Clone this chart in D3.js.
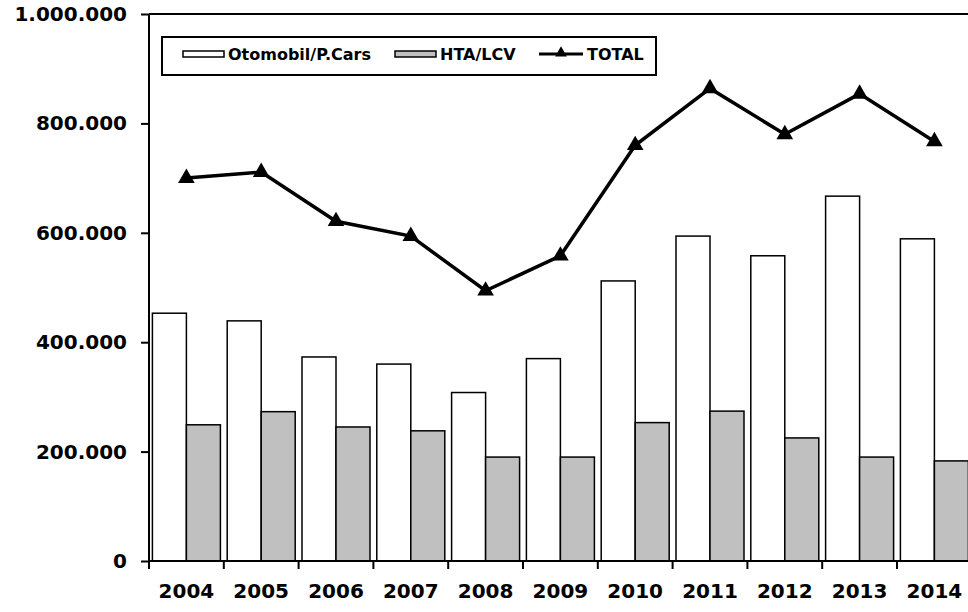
<!DOCTYPE html>
<html>
<head>
<meta charset="utf-8">
<script src="https://cdn.jsdelivr.net/npm/d3@7"></script>
<style>
  body { margin: 0; background: #fff; }
  svg text { font-family: "DejaVu Sans", Verdana, sans-serif; font-weight: bold; }
</style>
</head>
<body>
<div id="chart"></div>
<script>
// data
var years = ["2004", "2005", "2006", "2007", "2008", "2009", "2010", "2011", "2012", "2013", "2014"];
var cars = [453000, 439000, 373000, 360000, 308000, 370000, 512000, 594000, 558000, 667000, 589000];
var lcv = [249000, 273000, 245000, 238000, 190000, 190000, 253000, 274000, 225000, 190000, 183000];
var total = [700000, 711000, 621000, 594000, 494000, 558000, 760000, 864000, 780000, 854000, 767000];
var yTicks = [0, 200000, 400000, 600000, 800000, 1000000];
var seriesNames = ["Otomobil/P.Cars", "HTA/LCV", "TOTAL"];

var chartW = 968, chartH = 612;
var plotLeft = 149, plotTop = 14, plotBottom = 561, bandW = 74.8;

var svg = d3.select("#chart").append("svg")
    .attr("width", chartW)
    .attr("height", chartH);

var x = d3.scaleBand()
    .domain(years)
    .range([plotLeft, plotLeft + years.length * bandW]);

var xSub = d3.scaleBand()
    .domain(["cars", "lcv"])
    .range([0, x.bandwidth()])
    .paddingOuter(0.1);

var y = d3.scaleLinear()
    .domain([0, 1000000])
    .range([plotBottom, plotTop]);

// plot area border (top / right)
svg.append("line")
    .attr("x1", plotLeft).attr("x2", x.range()[1])
    .attr("y1", plotTop).attr("y2", plotTop)
    .attr("stroke", "#000").attr("stroke-width", 2);
svg.append("line")
    .attr("x1", x.range()[1]).attr("x2", x.range()[1])
    .attr("y1", plotTop).attr("y2", plotBottom)
    .attr("stroke", "#000").attr("stroke-width", 2);

// bars
var groups = svg.selectAll("g.year")
    .data(years)
    .enter().append("g")
    .attr("class", "year")
    .attr("transform", d => "translate(" + x(d) + ",0)");

groups.append("rect")
    .attr("x", xSub("cars"))
    .attr("width", xSub.bandwidth())
    .attr("y", (d, i) => y(cars[i]))
    .attr("height", (d, i) => plotBottom - y(cars[i]))
    .attr("fill", "#fff")
    .attr("stroke", "#000")
    .attr("stroke-width", 1.5);

groups.append("rect")
    .attr("x", xSub("lcv"))
    .attr("width", xSub.bandwidth())
    .attr("y", (d, i) => y(lcv[i]))
    .attr("height", (d, i) => plotBottom - y(lcv[i]))
    .attr("fill", "#c0c0c0")
    .attr("stroke", "#000")
    .attr("stroke-width", 1.5);

// y axis
var yAxis = d3.axisLeft(y)
    .tickValues(yTicks)
    .tickSize(8)
    .tickPadding(14)
    .tickFormat(d => d === 0 ? "0" : d3.format(",")(d).replace(/,/g, "."));

svg.append("g")
    .attr("transform", "translate(" + plotLeft + ",0)")
    .call(yAxis)
    .call(g => g.selectAll("line, path").attr("stroke", "#000").attr("stroke-width", 2))
    .call(g => g.select(".domain").attr("d", "M0," + plotTop + "V" + plotBottom))
    .selectAll("text")
    .style("font-size", "20px")
    .attr("fill", "#000");

// x axis: ticks at band boundaries
svg.append("line")
    .attr("x1", plotLeft).attr("x2", x.range()[1])
    .attr("y1", plotBottom).attr("y2", plotBottom)
    .attr("stroke", "#000").attr("stroke-width", 2);

svg.selectAll("line.xtick")
    .data(years)
    .enter().append("line")
    .attr("class", "xtick")
    .attr("x1", d => x(d)).attr("x2", d => x(d))
    .attr("y1", plotBottom).attr("y2", plotBottom + 8)
    .attr("stroke", "#000").attr("stroke-width", 2);

svg.selectAll("text.xlabel")
    .data(years)
    .enter().append("text")
    .attr("class", "xlabel")
    .attr("x", d => x(d) + x.bandwidth() / 2)
    .attr("y", 598)
    .attr("text-anchor", "middle")
    .style("font-size", "20px")
    .text(d => d);

// total line
var line = d3.line()
    .x((d, i) => x(years[i]) + x.bandwidth() / 2)
    .y(d => y(d));

svg.append("path")
    .datum(total)
    .attr("d", line)
    .attr("fill", "none")
    .attr("stroke", "#000")
    .attr("stroke-width", 3.5);

var tri = d3.symbol().type(d3.symbolTriangle).size(120);

svg.selectAll("path.marker")
    .data(total)
    .enter().append("path")
    .attr("class", "marker")
    .attr("d", tri)
    .attr("transform", (d, i) => "translate(" + (x(years[i]) + x.bandwidth() / 2) + "," + y(d) + ")")
    .attr("fill", "#000");

// legend
var legend = svg.append("g");
legend.append("rect")
    .attr("x", 162).attr("y", 37)
    .attr("width", 494).attr("height", 38)
    .attr("fill", "#fff")
    .attr("stroke", "#000")
    .attr("stroke-width", 2);

legend.append("rect")
    .attr("x", 183).attr("y", 51).attr("width", 41).attr("height", 6)
    .attr("fill", "#fff").attr("stroke", "#000").attr("stroke-width", 1.5);
legend.append("text")
    .attr("x", 228).attr("y", 54).attr("dy", "0.36em")
    .style("font-size", "16px")
    .text(seriesNames[0]);

legend.append("rect")
    .attr("x", 395).attr("y", 51).attr("width", 41).attr("height", 6)
    .attr("fill", "#c0c0c0").attr("stroke", "#000").attr("stroke-width", 1.5);
legend.append("text")
    .attr("x", 440).attr("y", 54).attr("dy", "0.36em")
    .style("font-size", "16px")
    .text(seriesNames[1]);

legend.append("line")
    .attr("x1", 539).attr("x2", 583).attr("y1", 54).attr("y2", 54)
    .attr("stroke", "#000").attr("stroke-width", 3);
legend.append("path")
    .attr("d", d3.symbol().type(d3.symbolTriangle).size(60))
    .attr("transform", "translate(561,53)")
    .attr("fill", "#000");
legend.append("text")
    .attr("x", 587).attr("y", 54).attr("dy", "0.36em")
    .style("font-size", "16px")
    .text(seriesNames[2]);
</script>
</body>
</html>
